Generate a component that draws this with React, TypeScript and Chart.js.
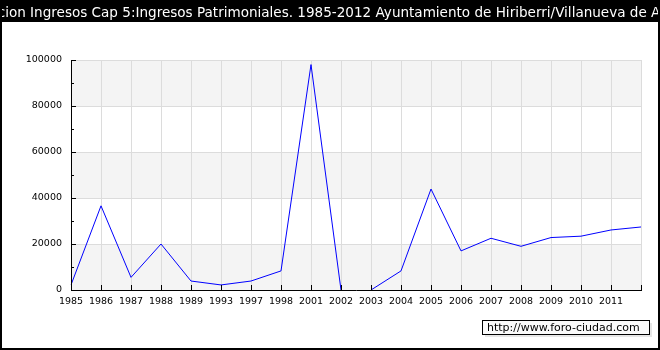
import React, { useEffect, useRef } from "react";
import { Chart, registerables } from "chart.js";

Chart.register(...registerables);

const TITLE =
  "Evolucion Ingresos Cap 5:Ingresos Patrimoniales. 1985-2012 Ayuntamiento de Hiriberri/Villanueva de Aezkoa";
const WATERMARK = "http://www.foro-ciudad.com";

const years = [
  "1985", "1986", "1987", "1988", "1989", "1993", "1997", "1998", "2001", "2002",
  "2003", "2004", "2005", "2006", "2007", "2008", "2009", "2010", "2011", "",
];
const ingresos = [
  2200, 36600, 5500, 20000, 3900, 2200, 3900, 8300, 98000, 0,
  0, 8300, 43900, 17000, 22500, 19000, 22800, 23400, 26100, 27400,
];
const yMax = 100000;
const yStep = 20000;
const yMinorStep = 10000;

const FONT = "'DejaVu Sans', Verdana, sans-serif";

const decorPlugin = {
  id: "decor",
  beforeDraw(chart: any) {
    const { ctx, width, height, chartArea, scales } = chart;
    ctx.save();
    ctx.fillStyle = "#ffffff";
    ctx.fillRect(0, 0, width, height);
    // title bar
    ctx.fillStyle = "#000000";
    ctx.fillRect(0, 0, width, 22);
    ctx.fillStyle = "#ffffff";
    ctx.font = `13.55px ${FONT}`;
    ctx.textAlign = "center";
    ctx.textBaseline = "alphabetic";
    ctx.fillText(TITLE, width / 2, 17);
    // bands
    const y = scales.y;
    ctx.fillStyle = "#f4f4f4";
    let i = 0;
    for (let v = 0; v < yMax; v += yStep, i++) {
      if (i % 2 === 0) {
        const top = y.getPixelForValue(v + yStep);
        const bot = y.getPixelForValue(v);
        ctx.fillRect(chartArea.left, top, chartArea.right - chartArea.left, bot - top);
      }
    }
    ctx.restore();
  },
  afterDraw(chart: any) {
    const { ctx, width, height, chartArea, scales } = chart;
    ctx.save();
    ctx.strokeStyle = "#000000";
    ctx.lineWidth = 1;
    // x ticks (inward)
    const x = scales.x;
    ctx.beginPath();
    for (let i = 0; i < x.ticks.length; i++) {
      const px = Math.round(x.getPixelForTick(i)) + 0.5;
      ctx.moveTo(px, chartArea.bottom - 5);
      ctx.lineTo(px, chartArea.bottom);
    }
    // y ticks (inward), major and minor
    const y = scales.y;
    for (let v = 0; v <= yMax; v += yMinorStep) {
      const py = Math.round(y.getPixelForValue(v)) + 0.5;
      const len = v % yStep === 0 ? 5 : 3;
      ctx.moveTo(chartArea.left, py);
      ctx.lineTo(chartArea.left + len, py);
    }
    ctx.stroke();
    // axis lines
    ctx.beginPath();
    ctx.moveTo(chartArea.left + 0.5, chartArea.top);
    ctx.lineTo(chartArea.left + 0.5, chartArea.bottom + 1);
    ctx.moveTo(chartArea.left, chartArea.bottom + 0.5);
    ctx.lineTo(chartArea.right + 1, chartArea.bottom + 0.5);
    ctx.stroke();
    // watermark
    ctx.font = `11px ${FONT}`;
    const bx = 482;
    const by = 320;
    const bw = 167;
    const bh = 14;
    ctx.fillStyle = "#e6e6e6";
    ctx.fillRect(bx + 3, by + 3, bw, bh);
    ctx.fillStyle = "#fafafa";
    ctx.fillRect(bx, by, bw, bh);
    ctx.strokeRect(bx + 0.5, by + 0.5, bw, bh);
    ctx.fillStyle = "#000000";
    ctx.textAlign = "left";
    ctx.textBaseline = "middle";
    ctx.fillText(WATERMARK, bx + 5, by + bh / 2 + 1);
    // outer border
    ctx.lineWidth = 2;
    ctx.strokeRect(1, 1, width - 2, height - 2);
    ctx.restore();
  },
};

export default function App() {
  const ref = useRef<HTMLCanvasElement>(null);
  useEffect(() => {
    document.body.style.margin = "0";
    const canvas = ref.current;
    if (!canvas) return;
    const chart = new Chart(canvas, {
      type: "line",
      data: {
        labels: years,
        datasets: [
          {
            data: ingresos,
            borderColor: "#0000ff",
            borderWidth: 1,
            pointRadius: 0,
            tension: 0,
            fill: false,
            segment: {
              borderColor: (c: any) =>
                c.p0.parsed.y === 0 && c.p1.parsed.y === 0 ? "rgba(0,0,0,0)" : "#0000ff",
            },
          },
        ],
      },
      options: {
        responsive: false,
        animation: false,
        devicePixelRatio: 1,
        layout: { padding: { top: 60, right: 19, bottom: 40, left: 0 } },
        plugins: {
          legend: { display: false },
          title: { display: false },
          tooltip: { enabled: false },
        },
        scales: {
          x: {
            offset: false,
            grid: { color: "#dcdcdc", lineWidth: 1, drawTicks: false },
            border: { display: false },
            ticks: {
              color: "#000000",
              font: { family: FONT, size: 9.5 },
              padding: 6,
              maxRotation: 0,
              autoSkip: false,
            },
            afterFit: (s: any) => {
              s.height = 20;
            },
          },
          y: {
            min: 0,
            max: yMax,
            grid: { color: "#dcdcdc", lineWidth: 1, drawTicks: false },
            border: { display: false },
            ticks: {
              stepSize: yStep,
              color: "#000000",
              font: { family: FONT, size: 9.5 },
              padding: 9,
              callback: (v: any) => String(v),
            },
            afterFit: (s: any) => {
              s.width = 71;
            },
          },
        },
      },
      plugins: [decorPlugin],
    });
    return () => chart.destroy();
  }, []);
  return <canvas ref={ref} width={660} height={350} />;
}
